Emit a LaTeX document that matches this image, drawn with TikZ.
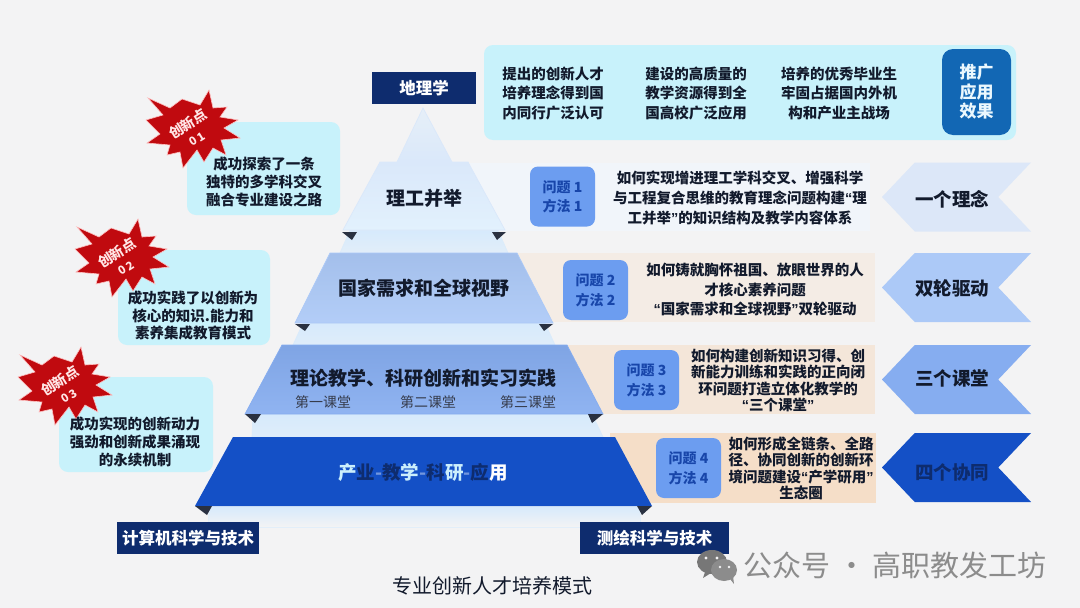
\documentclass[tikz,border=0pt]{standalone}
\usepackage{xcolor}
\usepackage{fontspec}
\setmainfont{Noto Sans CJK SC}
\newfontfamily\quotefont{Liberation Sans}
\usepackage{tikz}
\usetikzlibrary{shapes.geometric, shapes.symbols, positioning}
\definecolor{pagegray}{RGB}{243, 243, 244}
\definecolor{navyblue}{RGB}{14, 44, 110}
\definecolor{inktext}{RGB}{18, 26, 44}
\definecolor{paleaqua}{RGB}{200, 242, 251}
\definecolor{pushblue}{RGB}{18, 103, 180}
\definecolor{askblue}{RGB}{108, 157, 240}
\definecolor{asktext}{RGB}{24, 70, 170}
\definecolor{tierdeep}{RGB}{20, 80, 198}
\definecolor{burstred}{RGB}{192, 10, 15}
\definecolor{markgray}{RGB}{140, 140, 140}
\definecolor{mistblue}{RGB}{214, 234, 252}
\definecolor{tieronetop}{RGB}{218, 232, 250}
\definecolor{tieronelow}{RGB}{226, 241, 253}
\definecolor{tiertwo}{RGB}{172, 201, 247}
\definecolor{tierthree}{RGB}{134, 173, 240}
\definecolor{bandpale}{RGB}{241, 245, 250}
\definecolor{ribbonpale}{RGB}{220, 231, 248}
\newcommand{\opq}{{\quotefont “}}
\newcommand{\clq}{{\quotefont ”}}
\tikzstyle{tiertext} = [
    inner sep=0pt,
    text=inktext,
    font=\fontsize{19}{23}\selectfont\bfseries
]
\tikzstyle{ribbon} = [
    signal,
    signal to=west,
    signal from=east,
    signal pointer angle=93,
    minimum width=149pt,
    minimum height=69pt,
    inner sep=0pt
]
\tikzstyle{ribbontext} = [
    inner sep=0pt,
    text=inktext,
    font=\fontsize{18.5}{22}\selectfont\bfseries
]
\tikzstyle{askbox} = [
    rectangle,
    rounded corners=8pt,
    minimum width=65pt,
    minimum height=60pt,
    inner sep=0pt,
    align=center,
    fill=askblue,
    text=asktext,
    font=\fontsize{14}{19.5}\selectfont\bfseries
]
\tikzstyle{panel} = [
    rectangle,
    rounded corners=9pt,
    inner sep=0pt,
    fill=paleaqua
]
\tikzstyle{band} = [
    rectangle,
    inner sep=0pt
]
\tikzstyle{navytag} = [
    rectangle,
    inner sep=0pt,
    minimum height=32pt,
    fill=navyblue,
    text=white,
    font=\fontsize{16.5}{20}\selectfont\bfseries
]
\tikzstyle{bodytext} = [
    align=center,
    inner sep=0pt,
    text=inktext,
    font=\fontsize{14.5}{19.5}\selectfont\bfseries
]
\tikzstyle{densetext} = [
    align=center,
    inner sep=0pt,
    text=inktext,
    font=\fontsize{14.5}{16.4}\selectfont\bfseries
]
\tikzstyle{lessontext} = [
    inner sep=0pt,
    text=inktext!85,
    font=\fontsize{14}{17}\selectfont
]
\tikzstyle{bursttext} = [
    inner sep=0pt,
    rotate=32,
    text=white!90!red,
    font=\fontsize{14}{17}\selectfont\bfseries
]
\tikzstyle{burstno} = [
    bursttext,
    font=\fontsize{11.5}{14}\selectfont\bfseries
]
\tikzstyle{corner} = [
    fill=inktext!90
]
\tikzset{
    burst/.pic={
        \fill[burstred, draw=red!25, line width=0.6pt]
            (16,-39) -- (20,-21) -- (34,-22) -- (27,-12) -- (45,-9) -- (31,-1)
            -- (47,9) -- (28,11) -- (33,26) -- (20,19) -- (11,33) -- (4,21)
            -- (-10,39) -- (-13,23) -- (-26,26) -- (-23,16) -- (-46,14) -- (-33,5)
            -- (-47,-9) -- (-30,-14) -- (-45,-31) -- (-23,-21) -- (-11,-30) -- (7,-24)
            -- cycle;
    }
}
\begin{document}
\begin{tikzpicture}[x=1pt, y=-1pt]
        \fill[pagegray] (0,0) rectangle (1080,608);
        \useasboundingbox (0,0) rectangle (1080,608);

        % Bands behind the pyramid
        \node[band, fill=bandpale, minimum width=400pt, minimum height=68pt] (band1) at (670, 197) {};
        \node[band, fill=orange!6!pagegray, minimum width=375pt, minimum height=69pt] (band2) at (687.5, 287.5) {};
        \node[band, fill=orange!11!pagegray, minimum width=315pt, minimum height=69pt] (band3) at (717.5, 379.5) {};
        \node[band, fill=orange!18!pagegray, minimum width=266pt, minimum height=70pt] (band4) at (743, 468) {};

        % Pale shadows under the tiers
        \path[draw=tieronetop, line width=0.7pt, top color=mistblue!45!pagegray, bottom color=tieronetop] (423,108) -- (452,162) -- (397,162) -- cycle;
        \path[draw=mistblue!80!pagegray, line width=0.7pt, top color=mistblue, bottom color=mistblue!60!pagegray] (350,230) -- (498,230) -- (508,253) -- (340,253) -- cycle;
        \path[draw=mistblue!85!pagegray, line width=0.7pt, top color=mistblue, bottom color=mistblue!70!pagegray] (303,323) -- (545,323) -- (555,345) -- (293,345) -- cycle;
        \path[draw=mistblue!85!pagegray, line width=0.7pt, top color=mistblue, bottom color=mistblue!70!pagegray] (253,414) -- (592,414) -- (603,437) -- (252,437) -- cycle;
        \path[draw=mistblue!60!pagegray, line width=0.7pt, top color=mistblue, bottom color=pagegray] (208,506) -- (640,506) -- (640,527) -- (208,527) -- cycle;

        % Pyramid tiers
        \path[draw=tieronetop, line width=0.7pt, top color=tieronetop, bottom color=tieronelow] (380,162) -- (468,162) -- (505,230) -- (343,230) -- cycle;
        \path[draw=tiertwo, line width=0.7pt, top color=tiertwo!95!black, bottom color=tiertwo!92!white] (330,253) -- (517,253) -- (553,323) -- (295,323) -- cycle;
        \path[draw=tierthree, line width=0.7pt, top color=tierthree!95!black, bottom color=tierthree!92!white] (282,345) -- (567,345) -- (603,414) -- (245,414) -- cycle;
        \fill[tierdeep] (233,437) -- (615,437) -- (652,506) -- (195,506) -- cycle;
        \node[tiertext] (tier1) at (424, 198) {理工并举};
        \node[tiertext] (tier2) at (424, 288) {国家需求和全球视野};
        \node[tiertext] (tier3) at (423, 378) {理论教学、科研创新和实习实践};
        \node[tiertext, font=\fontsize{18.5}{22}\selectfont\bfseries] (tier4) at (423, 472)
            {\textcolor{cyan!20}{产}\textcolor{navyblue}{业}\textcolor{tierdeep!60}{-}\textcolor{navyblue}{教}\textcolor{cyan!20}{学}\textcolor{tierdeep!60}{-}\textcolor{navyblue}{科}\textcolor{cyan!20}{研}\textcolor{tierdeep!60}{-}\textcolor{navyblue}{应}\textcolor{white}{用}};
        \node[lessontext] (lesson1) at (323, 402) {第一课堂};
        \node[lessontext] (lesson2) at (428, 402) {第二课堂};
        \node[lessontext] (lesson3) at (528, 402) {第三课堂};

        % Corner marks
        \fill[corner] (342,232) -- (357,232) -- (352,240) -- cycle;
        \fill[corner] (492,232) -- (506,232) -- (497,240) -- cycle;
        \fill[corner] (295,324) -- (310,324) -- (305,331) -- cycle;
        \fill[corner] (539,324) -- (553,324) -- (544,331) -- cycle;
        \fill[corner] (245,414) -- (261,414) -- (255,423) -- cycle;
        \fill[corner] (588,414) -- (603,414) -- (592,423) -- cycle;
        \fill[corner] (195,506) -- (212,506) -- (207,515) -- cycle;
        \fill[corner] (637,506) -- (652,506) -- (642,515) -- cycle;

        % Discipline tags
        \node[navytag, minimum width=104pt] (geography) at (424, 88) {地理学};
        \node[navytag, minimum width=142pt] (computing) at (188, 538) {计算机科学与技术};
        \node[navytag, minimum width=149pt] (surveying) at (654.5, 538) {测绘科学与技术};

        % Promotion panel
        \node[panel, minimum width=532pt, minimum height=95pt] (promo) at (750, 92.5) {};
        \node[bodytext] (promo1) at (553, 93.5) {提出的创新人才\\培养理念得到国\\内同行广泛认可};
        \node[bodytext] (promo2) at (696, 93.5) {建设的高质量的\\教学资源得到全\\国高校广泛应用};
        \node[bodytext] (promo3) at (839, 93.5) {培养的优秀毕业生\\牢固占据国内外机\\构和产业主战场};
        \node[rectangle, rounded corners=11pt, minimum width=69pt, minimum height=86pt, inner sep=0pt, align=center, fill=pushblue, text=white!92!cyan, font=\fontsize{17}{19.5}\selectfont\bfseries] (promolabel) at (976.5, 92) {推广\\应用\\效果};

        % Question boxes
        \node[askbox] (ask1) at (562.5, 196.5) {问题 1\\方法 1};
        \node[askbox] (ask2) at (595.5, 290) {问题 2\\方法 2};
        \node[askbox] (ask3) at (646.5, 380) {问题 3\\方法 3};
        \node[askbox] (ask4) at (688.5, 468) {问题 4\\方法 4};

        % Question texts
        \node[bodytext, font=\fontsize{14.5}{20}\selectfont\bfseries] (text1) at (740, 198) {如何实现增进理工学科交叉、增强科学\\与工程复合思维的教育理念问题构建\opq 理\\工并举\clq 的知识结构及教学内容体系};
        \node[bodytext] (text2) at (755, 289.5) {如何铸就胸怀祖国、放眼世界的人\\才核心素养问题\\\opq 国家需求和全球视野\clq 双轮驱动};
        \node[densetext] (text3) at (778, 380.5) {如何构建创新知识习得、创\\新能力训练和实践的正向闭\\环问题打造立体化教学的\\\opq 三个课堂\clq};
        \node[densetext] (text4) at (801, 468.5) {如何形成全链条、全路\\径、协同创新的创新环\\境问题建设\opq 产学研用\clq\\生态圈};

        % Ribbons
        \node[ribbon, fill=ribbonpale] (ribbon1) at (956.5, 197) {\phantom{一}};
        \node[ribbon, fill=tiertwo] (ribbon2) at (956.5, 287.5) {\phantom{一}};
        \node[ribbon, fill=tierthree] (ribbon3) at (956.5, 379.5) {\phantom{一}};
        \node[ribbon, fill=tierdeep] (ribbon4) at (956.5, 467.5) {\phantom{一}};
        \node[ribbontext] (title1) at (952, 199) {一个理念};
        \node[ribbontext] (title2) at (952, 288) {双轮驱动};
        \node[ribbontext] (title3) at (952, 378) {三个课堂};
        \node[ribbontext, text=navyblue] (title4) at (952, 472) {四个协同};

        % Innovation points
        \node[panel, minimum width=153pt, minimum height=93pt] (point1) at (263.5, 168.5) {};
        \node[panel, minimum width=152pt, minimum height=95pt] (point2) at (194, 297.5) {};
        \node[panel, minimum width=154pt, minimum height=95pt] (point3) at (136, 424.5) {};
        \pic at (193, 129) {burst};
        \pic at (122, 258) {burst};
        \pic at (65, 386) {burst};
        \node[bursttext] (burst1) at (188, 124) {创新点};
        \node[burstno] (burst1no) at (197, 139) {0\,1};
        \node[bursttext] (burst2) at (117, 253) {创新点};
        \node[burstno] (burst2no) at (126, 268) {0\,2};
        \node[bursttext] (burst3) at (60, 381) {创新点};
        \node[burstno] (burst3no) at (69, 396) {0\,3};
        \node[bodytext, font=\fontsize{14.5}{18.2}\selectfont\bfseries] (pointtext1) at (264, 182) {成功探索了一条\\独特的多学科交叉\\融合专业建设之路};
        \node[bodytext, font=\fontsize{14.5}{17.5}\selectfont\bfseries] (pointtext2) at (193, 315.5) {成功实践了以创新为\\核心的知识.能力和\\素养集成教育模式};
        \node[bodytext, font=\fontsize{14.5}{18}\selectfont\bfseries] (pointtext3) at (135, 442) {成功实现的创新动力\\强劲和创新成果涌现\\的永续机制};

        % Caption
        \node[inner sep=0pt, text=inktext, font=\fontsize{20}{24}\selectfont] (caption) at (492, 586) {专业创新人才培养模式};

        % Watermark
        \fill[markgray!85!black] (712,562) ellipse (15 and 12);
        \fill[markgray!85!black] (705,572) -- (703,578) -- (711,573) -- cycle;
        \fill[markgray] (724,570) ellipse (13 and 11);
        \fill[markgray] (730,579) -- (734,584) -- (733,576) -- cycle;
        \fill[pagegray] (706,558) circle (1.7) (717,558) circle (1.7) (720,567) circle (1.4) (729,567) circle (1.4);
        \node[inner sep=0pt, text=markgray, font=\fontsize{29}{32}\selectfont] (watermark) at (895, 565) {公众号 · 高职教发工坊};
    \end{tikzpicture}
\end{document}
